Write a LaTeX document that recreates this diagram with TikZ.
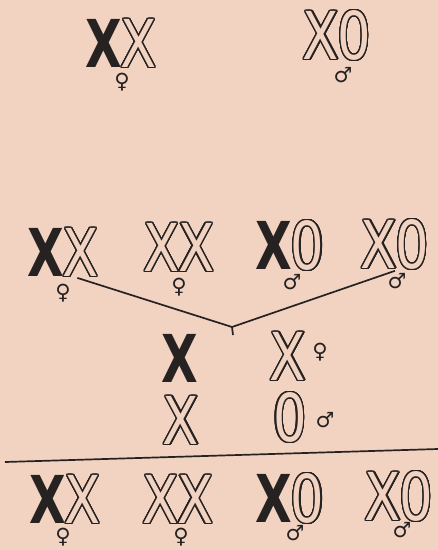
\documentclass[tikz,border=0pt]{standalone}
\usepackage{fontspec}
\usepackage{contour}
\usetikzlibrary{positioning}

\newfontfamily\chromfont[FakeStretch=0.8]{DejaVu Sans}
\newfontfamily\chromboldfont[FakeStretch=0.72]{DejaVu Sans}
\newfontfamily\signfont{DejaVu Sans}

\definecolor{paper}{HTML}{F2D3C1}
\definecolor{ink}{HTML}{262222}

\contourlength{1.3pt}
\contournumber{32}

% one dark X, one light (outlined) X, the light 0
\newcommand\darkX{{\color{ink}\chromboldfont\bfseries X}}
\newcommand\lightX{{\color{paper}\contour{ink}{\chromfont X}}}
\newcommand\lightO{{\color{paper}\contour{ink}{\chromfont 0}}}

\begin{document}
\begin{tikzpicture}[
    x=1pt, y=-1pt,
    chrom/.style={inner sep=0pt, font=\fontsize{66}{66}\selectfont},
    sign/.style={inner sep=0pt, text=ink, font=\signfont\fontsize{21}{21}\selectfont},
    link/.style={ink, line width=1.7pt},
]

\fill[paper] (0,0) rectangle (438,550);
\useasboundingbox (0,0) rectangle (438,550);

% ---------------------------------------------------------------- parents
\node[chrom] (par1) at (121,44) {\darkX\kern-1.5pt\lightX};
\node[sign]  (par1s) at (122,82) {♀};
\node[chrom] (par2) at (337,36) {\lightX\kern-1.5pt\lightO};
\node[sign]  (par2s) at (343,75) {♂};

% ---------------------------------------------------------------- first generation
\node[chrom] (fa1) at (63,253) {\darkX\kern-1.5pt\lightX};
\node[sign]  (fa1s) at (63,293) {♀};
\node[chrom] (fa2) at (179,248) {\lightX\kern-1.5pt\lightX};
\node[sign]  (fa2s) at (179,287) {♀};
\node[chrom] (fa3) at (290,246) {\darkX\kern-1.5pt\lightO};
\node[sign]  (fa3s) at (292,282) {♂};
\node[chrom] (fa4) at (395,245) {\lightX\kern-1.5pt\lightO};
\node[sign]  (fa4s) at (397,281) {♂};

% the two crossed
\coordinate (fork) at (232,327);
\coordinate (forktip) at (233,335);
\draw[link] (fa1.-60) -- (fork) -- (fa4.south);
\draw[link] (fork) -- (forktip);

% ---------------------------------------------------------------- gametes
\node[chrom] (egg1) at (180,358) {\darkX};
\node[chrom] (egg2) at (288,357) {\lightX};
\node[sign]  (eggs) at (320,352) {♀};
\node[chrom] (sperm1) at (181,421) {\lightX};
\node[chrom] (sperm2) at (290,418) {\lightO};
\node[sign]  (sperms) at (325,420) {♂};

\coordinate (rulel) at (5,462);
\coordinate (ruler) at (438,449);
\draw[link] (rulel) -- (ruler);

% ---------------------------------------------------------------- second generation
\node[chrom] (fb1) at (65,500) {\darkX\kern-1.5pt\lightX};
\node[sign]  (fb1s) at (63,537) {♀};
\node[chrom] (fb2) at (178,500) {\lightX\kern-1.5pt\lightX};
\node[sign]  (fb2s) at (181,537) {♀};
\node[chrom] (fb3) at (290,499) {\darkX\kern-1.5pt\lightO};
\node[sign]  (fb3s) at (295,533) {♂};
\node[chrom] (fb4) at (399,497) {\lightX\kern-1.5pt\lightO};
\node[sign]  (fb4s) at (402,530) {♂};

\end{tikzpicture}
\end{document}
